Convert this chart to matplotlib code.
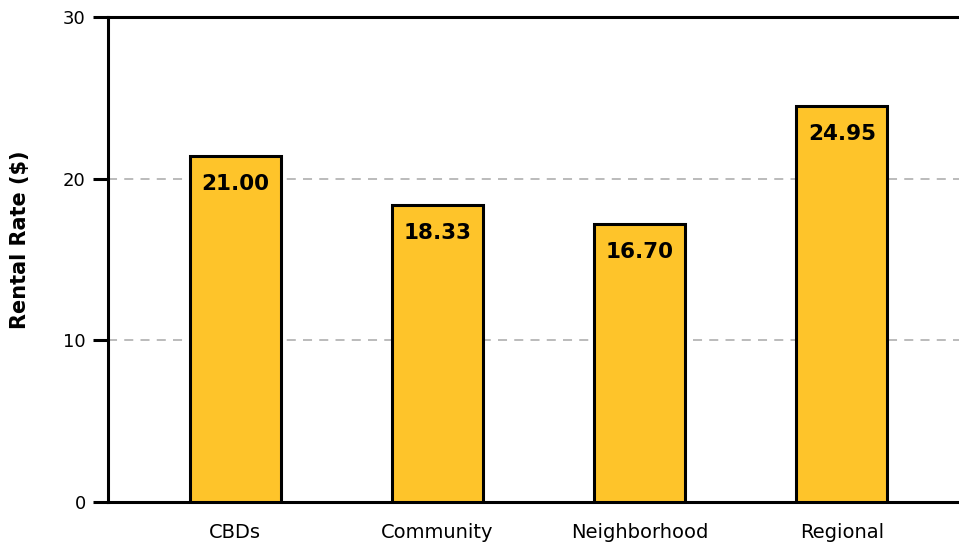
import numpy as np
import matplotlib
matplotlib.use("Agg")
from matplotlib import pyplot as plt

# data
categories = ["CBDs", "Community", "Neighborhood", "Regional"]
bar_heights = [21.4, 18.35, 17.2, 24.5]
bar_labels = ["21.00", "18.33", "16.70", "24.95"]
yticks = [0, 10, 20, 30]

plt.rcParams["font.family"] = ["DejaVu Sans"]

fig = plt.figure(figsize=(9.59, 5.48), dpi=100)
ax = fig.add_axes([0.1126, 0.0839, 0.898, 0.885])

x = np.arange(len(categories))
bars = ax.bar(x, bar_heights, width=0.45, color="#FEC42A",
              edgecolor="black", linewidth=2.2, zorder=3)

for b, lab in zip(bars, bar_labels):
    ax.annotate(lab, (b.get_x() + b.get_width() / 2, b.get_height()),
                xytext=(0, -20), textcoords="offset points",
                ha="center", va="center", fontsize=15.5, fontweight="bold",
                zorder=4)

ax.set_xlim(-0.63, 3.63)
ax.set_ylim(0, 30)
ax.set_yticks(yticks)
ax.set_xticks(x)
ax.set_xticklabels(categories, fontsize=14)
ax.tick_params(axis="y", labelsize=13, length=11, width=2.2, pad=5)
ax.tick_params(axis="x", length=0, pad=15)

ax.yaxis.grid(True, linestyle=(0, (5, 4)), color="#b5b5b5", linewidth=1.3, zorder=0)
gl = ax.get_ygridlines()
gl[0].set_visible(False)
gl[-1].set_visible(False)

for s in ["left", "bottom", "top"]:
    ax.spines[s].set_linewidth(2.2)
ax.spines["right"].set_visible(False)

ax.set_ylabel("Rental Rate ($)", fontsize=15, fontweight="bold")
ax.yaxis.set_label_coords(-0.09, 0.54)

fig.savefig("out.png", dpi=100)
